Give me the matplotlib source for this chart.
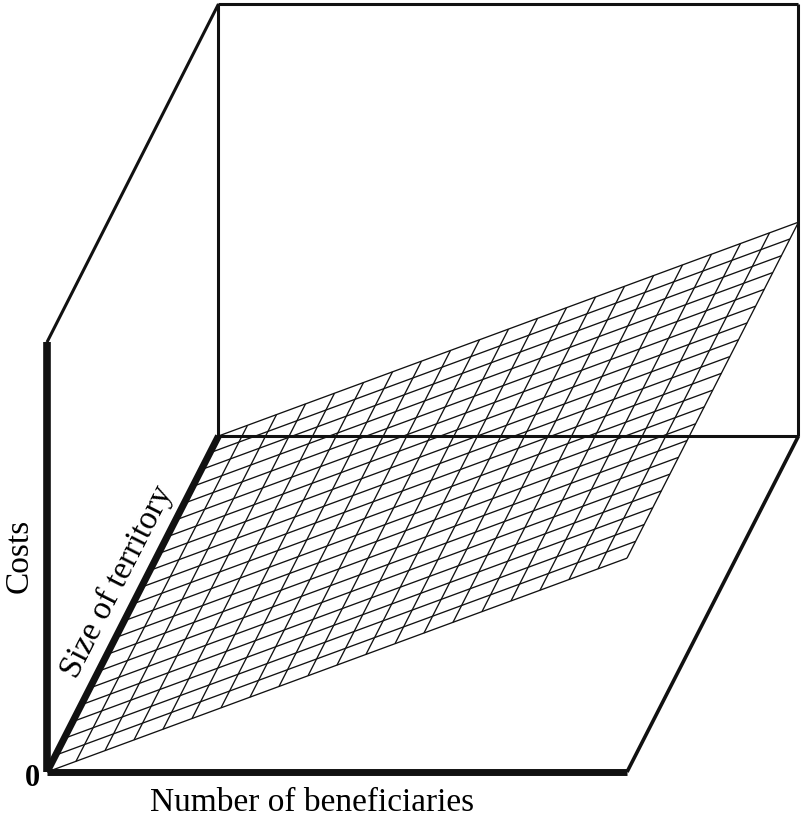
import numpy as np
import matplotlib.pyplot as plt

# axis labels
x_label = 'Number of beneficiaries'
y_label = 'Costs'
z_label = 'Size of territory'
origin_label = '0'

# cost surface: costs rise with beneficiaries, flat along territory
n_cells = 20
cost_slope = 0.495   # cost at full beneficiaries, as share of box height

# oblique projection (pixels): origin, beneficiaries, territory, costs
O = np.array([47.0, 773.0])
B = np.array([580.0, 0.0])
T = np.array([171.5, -336.0])
C = np.array([0.0, -432.0])

def proj(b, t, c):
    return O + b * B + t * T + c * C

fig = plt.figure(figsize=(8.04, 8.29), dpi=100)
ax = fig.add_axes([0, 0, 1, 1])
ax.set_xlim(0, 804)
ax.set_ylim(829, 0)
ax.axis('off')

def seg(p, q, lw, **kw):
    ax.plot([p[0], q[0]], [p[1], q[1]], color='#111111', lw=lw,
            solid_capstyle='butt', **kw)

# mesh of the cost surface
s = np.linspace(0, 1, n_cells + 1)
for t in s:
    p, q = proj(0, t, 0), proj(1, t, cost_slope)
    seg(p, q, 0.95)
for b in s:
    p, q = proj(b, 0, cost_slope * b), proj(b, 1, cost_slope * b)
    seg(p, q, 0.95)

# box: back face, top left edge, floor right edge
seg(proj(0, 1, 0), proj(0, 1, 1), 2.2)
seg(proj(0, 1, 1), proj(1, 1, 1), 2.2)
seg(proj(1, 1, 1), proj(1, 1, 0), 2.2)
seg(proj(0, 1, 0), proj(1, 1, 0), 2.2)
seg(proj(0, 0, 0.995), proj(0, 1, 1), 2.2)
seg(proj(1, 0, 0), proj(1, 1, 0), 2.6)

# thick main axes
seg(proj(0, 0, 0), proj(1, 0, 0), 5.0)
seg(proj(0, 0, 0), proj(0, 0, 0.995), 5.5)
seg(proj(0, 0, 0), proj(0, 1, 0), 5.0)

font = 'Liberation Serif'
ax.text(19, 556, y_label, rotation=90, ha='center', va='center',
        fontsize=24, family=font)
ax.text(312, 803, x_label, ha='center', va='center', fontsize=24, family=font)
ang = np.degrees(np.arctan2(336, 171.5))
ax.text(117, 582, z_label, rotation=ang, ha='center', va='center',
        rotation_mode='anchor', fontsize=24, family=font)
ax.text(32, 779, origin_label, ha='center', va='center', fontsize=22,
        family=font, fontweight='bold')

fig.savefig('out.png', dpi=100)
